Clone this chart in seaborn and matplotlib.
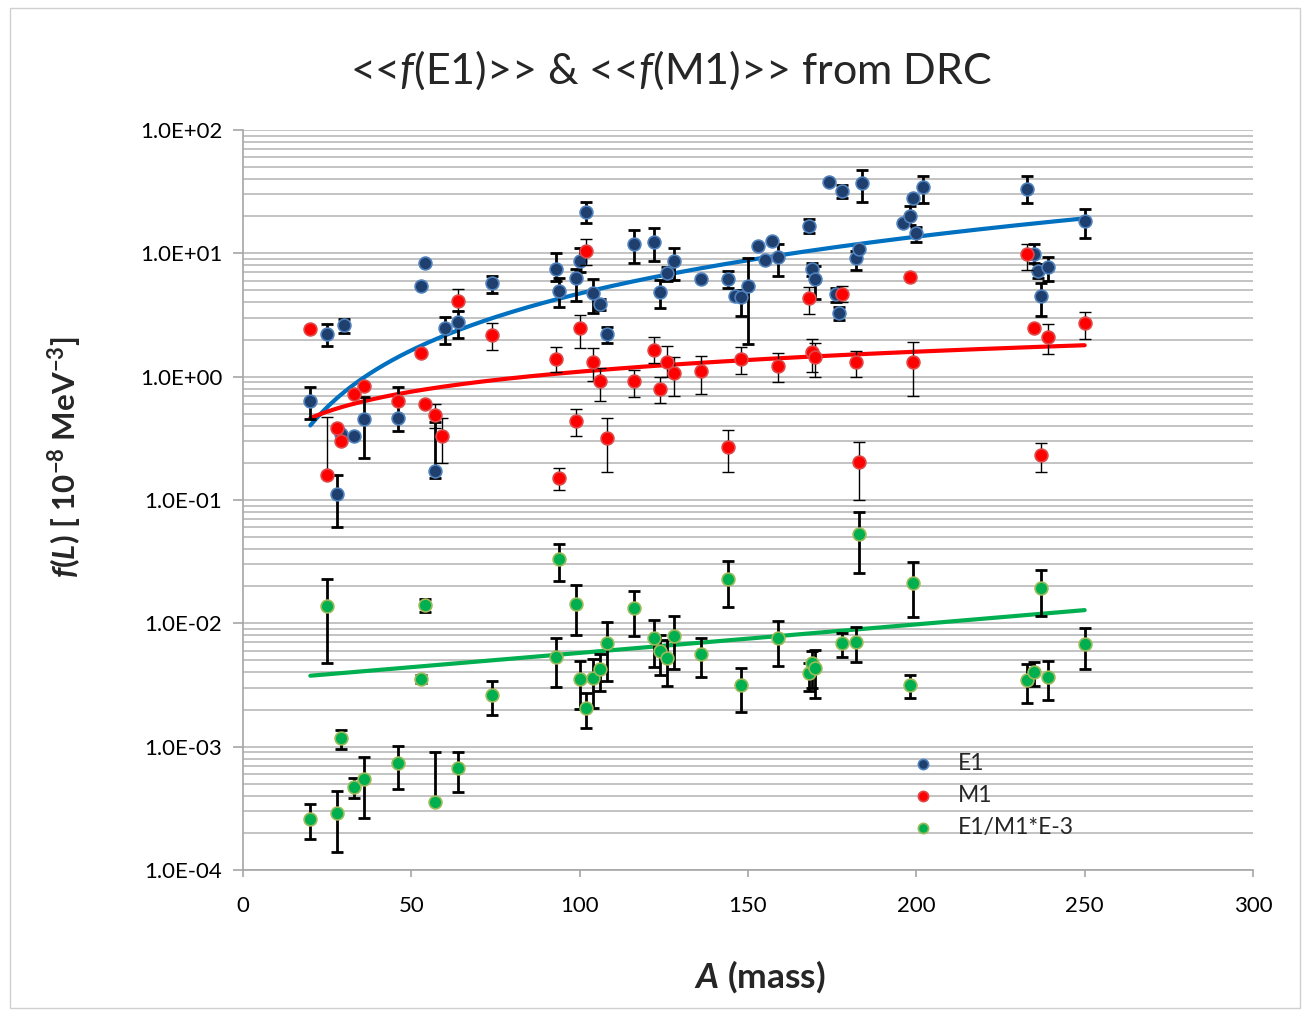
import numpy as np
import pandas as pd
import matplotlib
matplotlib.use("Agg")
import matplotlib.pyplot as plt
import seaborn as sns
from matplotlib.ticker import FixedLocator, FuncFormatter, LogLocator, NullFormatter
from matplotlib.patches import Rectangle

nan = np.nan

# ---------------- data ----------------
# E1 series: mass number, value, lower / upper error-bar ends
e1_A = [20, 25, 28, 29, 30, 33, 36, 46, 53, 54, 57, 60, 64, 74, 93, 94, 99, 100, 102, 104,
        106, 108, 116, 122, 124, 126, 128, 136, 144, 146, 148, 150, 153, 155, 157, 159, 168, 169, 170, 174,
        176, 177, 178, 182, 183, 184, 196, 198, 199, 200, 202, 233, 235, 236, 237, 239, 250]
e1_f = [0.635, 2.22, 0.111, 0.34, 2.61, 0.332, 0.454, 0.46, 5.47, 8.4, 0.172, 2.47, 2.76, 5.7, 7.4, 4.98, 6.35, 8.7, 21.8, 4.74,
        3.88, 2.22, 12.0, 12.4, 4.83, 6.9, 8.7, 6.2, 6.2, 4.5, 4.4, 5.43, 11.5, 8.8, 12.6, 9.3, 16.7, 7.4, 6.15, 38.1,
        4.66, 3.27, 32.0, 9.2, 10.8, 37.4, 17.5, 20.2, 27.9, 14.5, 34.3, 33.4, 9.9, 7.2, 4.5, 7.75, 18.3]
e1_lo = [0.45, 1.77, 0.060, nan, 2.27, nan, 0.22, 0.36, nan, nan, 0.15, 1.85, 2.05, 4.75, 6.0, 3.69, 4.1, 7.0, 17.5, 3.3,
         3.47, 1.86, 8.4, 8.7, 3.58, 6.0, 6.1, nan, 5.2, nan, 3.1, 1.84, nan, nan, nan, 6.5, 14.5, 6.5, 4.3, nan,
         4.05, 2.88, 27.9, 7.3, nan, 26.2, nan, 17.0, nan, 12.4, 25.5, 25.5, 8.3, 6.3, 3.12, 6.0, 13.3]
e1_hi = [0.82, 2.67, 0.16, nan, 2.92, nan, 0.68, 0.83, nan, nan, 0.43, 3.05, 3.40, 6.6, 10.0, 6.3, 7.5, 11.0, 26.2, 6.15,
         4.3, 2.54, 15.5, 16.0, 6.1, 7.8, 11.1, nan, 7.2, nan, 5.0, 9.1, nan, nan, nan, 12.0, 19.0, 8.4, 7.9, nan,
         5.2, 3.69, 35.8, 10.5, nan, 47.5, nan, 24.3, nan, 16.4, 42.6, 42.4, 12.0, 8.2, 5.8, 9.4, 22.9]

# M1 series
m1_A = [20, 25, 28, 29, 33, 36, 46, 53, 54, 57, 59, 64, 74, 93, 94, 99, 100, 102, 104, 106,
        108, 116, 122, 124, 126, 128, 136, 144, 148, 159, 168, 169, 170, 178, 182, 183, 198, 199, 233, 235,
        237, 239, 250]
m1_f = [2.42, 0.16, 0.38, 0.30, 0.72, 0.84, 0.63, 1.55, 0.60, 0.49, 0.33, 4.1, 2.18, 1.38, 0.152, 0.44, 2.47, 10.5, 1.32, 0.92,
        0.32, 0.92, 1.64, 0.80, 1.32, 1.08, 1.11, 0.27, 1.39, 1.23, 4.32, 1.59, 1.44, 4.68, 1.31, 0.202, 6.4, 1.31, 9.8, 2.47,
        0.232, 2.11, 2.71]
m1_lo = [nan, 0.16, nan, nan, nan, nan, nan, nan, nan, 0.38, 0.20, 3.4, 1.64, 1.1, 0.12, 0.33, 1.70, 8.0, 0.93, 0.64,
         0.17, 0.69, 1.3, 0.61, 1.0, 0.70, 0.72, 0.17, 1.05, 0.91, 3.2, 1.1, 0.99, 4.0, 1.0, 0.10, nan, 0.70, 7.3, nan,
         0.17, 1.53, 2.01]
m1_hi = [nan, 0.47, nan, nan, nan, nan, nan, nan, nan, 0.60, 0.46, 5.1, 2.7, 1.73, 0.181, 0.55, 3.16, 13.0, 1.70, 1.18,
         0.46, 1.13, 2.11, 1.0, 1.78, 1.45, 1.48, 0.37, 1.75, 1.55, 5.37, 2.02, 1.86, 5.44, 1.6, 0.297, nan, 1.9, 12.0, nan,
         0.288, 2.65, 3.37]

# E1/M1*E-3 series
r_A = [20, 25, 28, 29, 33, 36, 46, 53, 54, 57, 64, 74, 93, 94, 99, 100, 102, 104, 106, 108,
       116, 122, 124, 126, 128, 136, 144, 148, 159, 168, 169, 170, 178, 182, 183, 198, 199, 233, 235, 237,
       239, 250]
r_f = [0.000259, 0.0138, 0.000291, 0.00117, 0.000468, 0.000543, 0.000733, 0.00354, 0.0141, 0.000354, 0.000667, 0.00262,
       0.00535, 0.033, 0.01436, 0.00352, 0.00207, 0.00362, 0.00427, 0.00689,
       0.01324, 0.00755, 0.0060, 0.0052, 0.0079, 0.0056, 0.0229, 0.00316, 0.00755, 0.00394, 0.00474, 0.00437,
       0.0069, 0.0071, 0.0530, 0.00316, 0.0214, 0.00347, 0.0040, 0.0195, 0.0037, 0.00676]
r_lo = [0.000178, 0.0048, 0.00014, 0.00096, 0.000381, 0.000262, 0.000451, 0.0033, 0.0124, 0.000354, 0.000431, 0.0018,
        0.00306, 0.022, 0.0080, 0.00201, 0.00141, 0.00207, 0.00284, 0.00343,
        0.0079, 0.00445, 0.0038, 0.0031, 0.00424, 0.00365, 0.0135, 0.00192, 0.00453, 0.00284, 0.0030, 0.00247,
        0.0053, 0.0049, 0.0257, 0.00249, 0.0113, 0.00224, 0.0031, 0.01153, 0.00239, 0.00424]
r_hi = [0.000343, 0.0228, 0.000437, 0.00136, 0.000553, 0.00082, 0.00101, 0.0038, 0.0157, 0.0009, 0.0009, 0.0034,
        0.00755, 0.044, 0.0205, 0.00498, 0.00271, 0.0051, 0.0056, 0.0102,
        0.0183, 0.01064, 0.0080, 0.0073, 0.01146, 0.00755, 0.032, 0.00436, 0.0105, 0.0048, 0.0060, 0.0061,
        0.0084, 0.0093, 0.080, 0.0038, 0.0316, 0.00468, 0.00483, 0.027, 0.00495, 0.0092]

# trendline of the ratio series (end values)
r_trend_A = [20, 250]
r_trend_f = [0.00376, 0.0128]

series_names = ["E1", "M1", "E1/M1*E-3"]
title_text = r"<<$\mathit{f}$(E1)>> & <<$\mathit{f}$(M1)>> from DRC"
y_ticks = [1e-4, 1e-3, 1e-2, 1e-1, 1e0, 1e1, 1e2]
x_ticks = [0, 50, 100, 150, 200, 250, 300]

# ---------------- style ----------------
sns.set_theme(style="white")
plt.rcParams['font.family'] = ['Lato', 'DejaVu Sans']
plt.rcParams['mathtext.fontset'] = 'custom'
plt.rcParams['mathtext.rm'] = 'Lato'
plt.rcParams['mathtext.it'] = 'Lato:italic'
plt.rcParams['mathtext.bf'] = 'Lato:bold'
plt.rcParams['mathtext.bfit'] = 'Lato:bold:italic'

W, H = 1306, 1010
fig = plt.figure(figsize=(W / 100, H / 100), dpi=100)
fig.patch.set_facecolor("white")
fig.patches.append(Rectangle((10 / W, 2 / H), 1290 / W, 1000 / H, transform=fig.transFigure,
                             fill=False, edgecolor="#D0D0D0", linewidth=1.0, zorder=0))

ax = fig.add_axes([243 / W, 140 / H, 1010 / W, 740 / H])
ax.set_yscale("log")
ax.set_xlim(0, 300)
ax.set_ylim(1e-4, 1e2)

grid_c = "#BEBEBE"
ax.yaxis.set_major_locator(FixedLocator(y_ticks))
ax.yaxis.set_minor_locator(LogLocator(base=10, subs=np.arange(2, 10)))
ax.yaxis.set_minor_formatter(NullFormatter())
ax.yaxis.set_major_formatter(FuncFormatter(lambda v, p: f"{v:.1E}"))
ax.xaxis.set_major_locator(FixedLocator(x_ticks))
ax.grid(False)
ax.grid(True, which="both", axis="y", color=grid_c, linewidth=1.3, zorder=0)
ax.set_axisbelow(True)
for s in ["top", "right"]:
    ax.spines[s].set_visible(False)
for s in ["left", "bottom"]:
    ax.spines[s].set_color("#A6A6A6")
    ax.spines[s].set_linewidth(1.2)
ax.tick_params(axis="y", which="major", direction="out", length=7, width=1.2, color="#A6A6A6",
               labelsize=16, labelcolor="black", pad=8, left=True)
ax.tick_params(axis="y", which="minor", length=0)
ax.tick_params(axis="x", which="major", direction="out", length=5, width=1.2, color="#A6A6A6",
               labelsize=16, labelcolor="black", pad=14, bottom=True)

specs = [
    (e1_A, e1_f, e1_lo, e1_hi, "#1F3F6E", "#4F81BD", "#0070C0", 2.0),
    (m1_A, m1_f, m1_lo, m1_hi, "#FF0000", "#E04848", "#FF0000", 1.0),
    (r_A, r_f, r_lo, r_hi, "#00B050", "#9BBB59", "#00B050", 2.0),
]

# trendlines: power-law least squares fit (log-log) for E1 and M1
for i, (A, f, lo, hi, face, edge, tcol, elw) in enumerate(specs[:2]):
    A = np.array(A, float); f = np.array(f, float)
    b, a = np.polyfit(np.log(A), np.log(f), 1)
    xs = np.linspace(A.min(), A.max(), 200)
    sns.lineplot(x=xs, y=np.exp(a) * xs ** b, color=tcol, linewidth=3.0, ax=ax, zorder=1.5)
sns.lineplot(x=r_trend_A, y=r_trend_f, color="#00B050", linewidth=3.0, ax=ax, zorder=1.5)

for i, (A, f, lo, hi, face, edge, tcol, elw) in enumerate(specs):
    A = np.array(A, float); f = np.array(f, float)
    lo = np.array(lo, float); hi = np.array(hi, float)
    m = ~(np.isnan(lo) & np.isnan(hi))
    lo_ = np.where(np.isnan(lo), f, lo); hi_ = np.where(np.isnan(hi), f, hi)
    ax.errorbar(A[m], f[m], yerr=[f[m] - lo_[m], hi_[m] - f[m]], fmt="none", ecolor="black",
                elinewidth=elw, capsize=4.5, capthick=elw, zorder=2 + 2 * i)
    df = pd.DataFrame({"A": A, "f": f})
    sns.scatterplot(data=df, x="A", y="f", color=face, edgecolor=edge, linewidth=1.2, s=85,
                    ax=ax, zorder=3 + 2 * i, label=series_names[i])

ax.set_xlabel(""); ax.set_ylabel("")
leg = ax.legend(loc="upper left", bbox_to_anchor=(0.662, 0.158), frameon=False, fontsize=16.5,
                borderpad=0, borderaxespad=0, handlelength=1.0, handletextpad=1.0, labelspacing=0.48,
                markerscale=0.8)

fig.text(671 / W, 1 - 70 / H, title_text, ha="center", va="center", fontsize=31)
fig.text(760 / W, 1 - 977 / H, r"$\mathbfit{A}$ (mass)", ha="center", va="center", fontsize=25.5,
         fontweight="bold")
fig.text(65 / W, 1 - 457 / H, r"$\mathbfit{f}$($\mathbfit{L}$) [ 10$^{\mathbf{-8}}$ MeV$^{\mathbf{-3}}$]",
         ha="center", va="center", rotation=90, fontsize=22.5, fontweight="bold")

fig.savefig("out.png", dpi=100, facecolor="white")
